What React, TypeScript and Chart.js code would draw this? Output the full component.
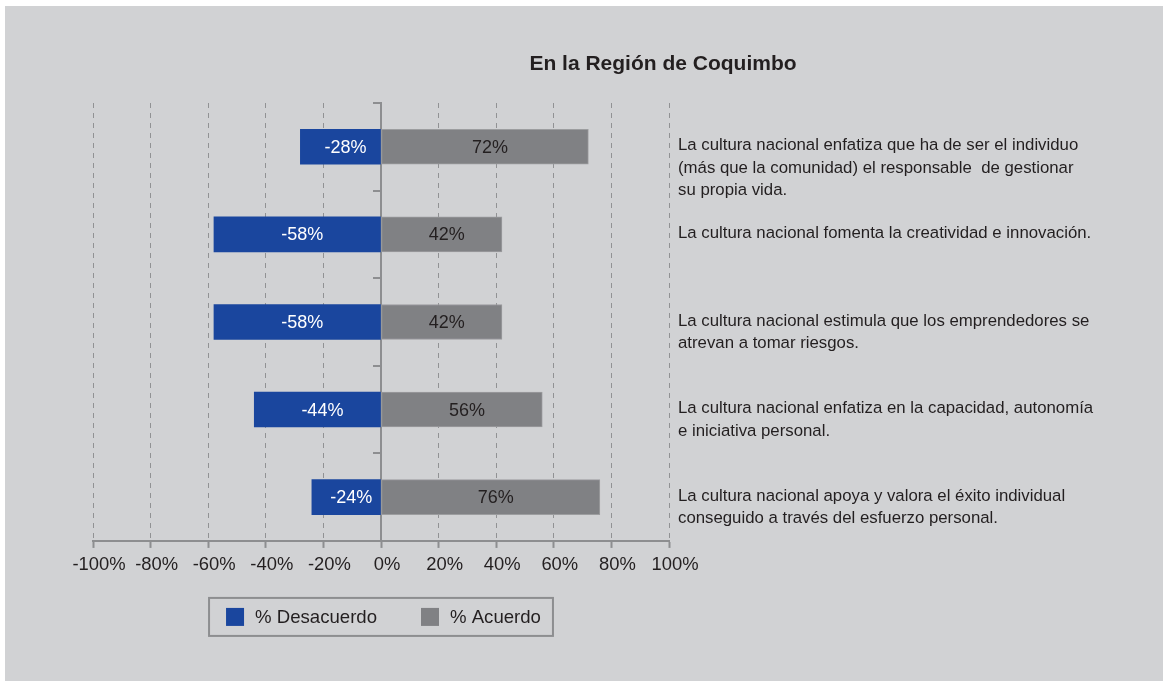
import React, { useEffect, useRef } from 'react';
import { Chart, registerables } from 'chart.js';

Chart.register(...registerables);

const categories: string[][] = [
  ['La cultura nacional enfatiza que ha de ser el individuo', '(más que la comunidad) el responsable  de gestionar', 'su propia vida.'],
  ['La cultura nacional fomenta la creatividad e innovación.'],
  ['La cultura nacional estimula que los emprendedores se', 'atrevan a tomar riesgos.'],
  ['La cultura nacional enfatiza en la capacidad, autonomía', 'e iniciativa personal.'],
  ['La cultura nacional apoya y valora el éxito individual', 'conseguido a través del esfuerzo personal.'],
];
const desacuerdo = [-28, -58, -58, -44, -24];
const acuerdo = [72, 42, 42, 56, 76];
const seriesLabels = ['% Desacuerdo', '% Acuerdo'];
const titleText = 'En la Región de Coquimbo';
const xMin = -100;
const xMax = 100;
const xStep = 20;

const FONT = '"Liberation Sans", Arial, Helvetica, sans-serif';
const TEXT = '#231f20';
const BLUE = '#1a469e';
const GREY = '#808184';
const AXIS = '#8d8e90';

const overlay = {
  id: 'overlay',
  afterDatasetsDraw(chart: any) {
    const ctx = chart.ctx;
    ctx.save();
    ctx.font = `18px ${FONT}`;
    ctx.textAlign = 'center';
    ctx.textBaseline = 'middle';
    chart.data.datasets.forEach((ds: any, di: number) => {
      const meta = chart.getDatasetMeta(di);
      meta.data.forEach((el: any, i: number) => {
        const p = el.getProps(['x', 'y', 'base'], true);
        ctx.fillStyle = di === 0 ? '#ffffff' : TEXT;
        ctx.fillText(`${ds.data[i]}%`, (p.x + p.base) / 2 + 5, p.y + 1);
      });
    });
    ctx.restore();
  },
  afterDraw(chart: any) {
    const ctx = chart.ctx;
    const area = chart.chartArea;
    const yScale = chart.scales.y;
    ctx.save();
    // title
    ctx.font = `bold 21px ${FONT}`;
    ctx.fillStyle = TEXT;
    ctx.textAlign = 'center';
    ctx.textBaseline = 'middle';
    ctx.fillText(titleText, area.right - 6, area.top - 39);
    // category statements
    ctx.font = `16.8px ${FONT}`;
    ctx.textAlign = 'left';
    (chart.data.labels as string[][]).forEach((lines, i) => {
      const y = yScale.getPixelForValue(i);
      lines.forEach((line, j) => {
        ctx.fillText(line, area.right + 9, y - 1 + j * 22.5);
      });
    });
    // legend
    ctx.font = `18.6px ${FONT}`;
    const box = 18, gap = 11, spacing = 44, padL = 17, padR = 12;
    const items = chart.data.datasets.map((ds: any) => ({ label: ds.label, color: ds.backgroundColor }));
    const widths = items.map((it: any) => box + gap + ctx.measureText(it.label).width);
    const total = widths.reduce((a: number, b: number) => a + b, 0) + spacing * (items.length - 1);
    const cx = (area.left + area.right) / 2;
    const boxLeft = cx - (total + padL + padR) / 2;
    const boxTop = area.bottom + 57;
    const boxH = 38;
    ctx.strokeStyle = AXIS;
    ctx.lineWidth = 2;
    ctx.strokeRect(boxLeft, boxTop, total + padL + padR, boxH);
    let x = boxLeft + padL;
    const cy = boxTop + boxH / 2;
    items.forEach((it: any, i: number) => {
      ctx.fillStyle = it.color;
      ctx.fillRect(x, cy - box / 2, box, box);
      ctx.fillStyle = TEXT;
      ctx.textBaseline = 'middle';
      ctx.fillText(it.label, x + box + gap, cy + 1);
      x += widths[i] + spacing;
    });
    ctx.restore();
  },
};

export default function App() {
  const ref = useRef<HTMLCanvasElement>(null);
  useEffect(() => {
    if (!ref.current) return;
    const chart = new Chart(ref.current, {
      type: 'bar',
      data: {
        labels: categories as any,
        datasets: [
          { label: seriesLabels[0], data: desacuerdo, backgroundColor: BLUE, borderWidth: 0, barThickness: 35 },
          { label: seriesLabels[1], data: acuerdo, backgroundColor: GREY, borderColor: '#9c9d9f', borderWidth: 1, borderSkipped: false, barThickness: 35 },
        ],
      },
      options: {
        indexAxis: 'y',
        animation: false,
        responsive: true,
        maintainAspectRatio: false,
        layout: { padding: { left: 88, right: 494, top: 97, bottom: 99 } },
        plugins: { legend: { display: false }, title: { display: false }, tooltip: { enabled: false } },
        scales: {
          x: {
            stacked: true,
            min: xMin,
            max: xMax,
            ticks: {
              stepSize: xStep,
              callback: (v: any) => `${v}%`,
              font: { size: 18.4, family: FONT },
              color: TEXT,
              padding: 6,
              labelOffset: 6,
              maxRotation: 0,
              minRotation: 0,
              autoSkip: false,
            },
            grid: { color: '#919294', lineWidth: 1, drawTicks: true, tickLength: 7, tickColor: AXIS, tickWidth: 2 },
            border: { display: true, color: AXIS, width: 2, dash: [5, 5] },
          },
          y: {
            stacked: true,
            position: { x: 0 } as any,
            ticks: { display: false },
            grid: { drawOnChartArea: false, drawTicks: true, tickLength: 7, color: AXIS, lineWidth: 2, offset: true },
            border: { display: true, color: AXIS, width: 2 },
          },
        },
      },
      plugins: [overlay],
    });
    return () => chart.destroy();
  }, []);
  return (
    <div style={{ position: 'absolute', left: 0, top: 0, width: 1163, height: 681, background: '#ffffff' }}>
      <div style={{ position: 'absolute', left: 5, top: 6, width: 1158, height: 675, background: '#d1d2d4' }}>
        <canvas ref={ref} />
      </div>
    </div>
  );
}
